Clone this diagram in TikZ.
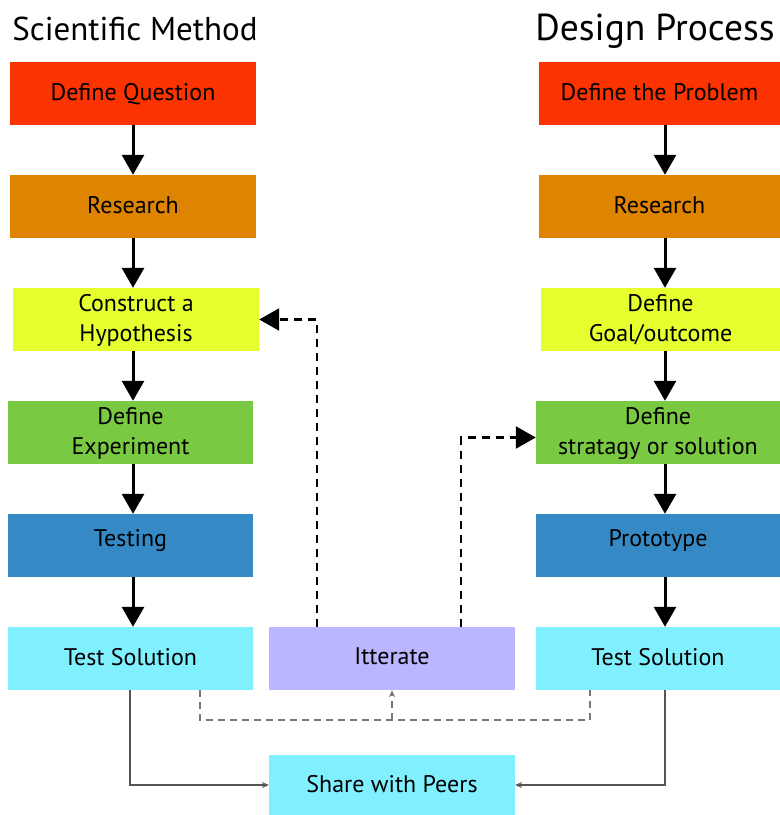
\documentclass[tikz,border=0pt]{standalone}
\usepackage{fontspec}
\setmainfont{PT Sans}
\usetikzlibrary{arrows.meta,calc}
\definecolor{cred}{HTML}{FA3300}
\definecolor{corange}{HTML}{DE8400}
\definecolor{cyellow}{HTML}{E6FF2E}
\definecolor{cgreen}{HTML}{7AC943}
\definecolor{cblue}{HTML}{358AC6}
\definecolor{ccyan}{HTML}{80F0FF}
\definecolor{clav}{HTML}{BAB7FF}
\definecolor{cdash}{HTML}{777777}
\definecolor{cline}{HTML}{555555}
\begin{document}
\begin{tikzpicture}[x=1pt,y=-1pt,
  box/.style={minimum height=63pt,inner sep=0pt,align=center,font=\fontsize{24}{30}\selectfont,text depth=4pt},
  hi/.style={text depth=16pt},
  title/.style={inner sep=0pt,anchor=base},
  flow/.style={line width=3pt,-{Triangle[length=20pt,width=22pt]}},
  iter/.style={line width=2.5pt,dash pattern=on 8pt off 6pt,-{Triangle[length=20pt,width=22pt]}},
  back/.style={cdash,line width=1.5pt,dash pattern=on 7pt off 5pt},
  share/.style={cline,line width=1.2pt,-{Stealth[length=7pt,width=6pt]}}]
\useasboundingbox (0,0) rectangle (780,815);
\node[title,font=\fontsize{33}{38}\selectfont] (t1) at (135,40) {Scientific Method};
\node[title,font=\fontsize{37.5}{42}\selectfont] (t2) at (655,40) {Design Process};
% left column
\node[box,fill=cred,minimum width=246pt] (lq) at (133,93.5) {Define Question};
\node[box,fill=corange,minimum width=246pt] (lr) at (133,206.5) {Research};
\node[box,fill=cyellow,minimum width=246pt] (lh) at (136,319.5) {Construct a\\Hypothesis};
\node[box,fill=cgreen,minimum width=245pt] (le) at (130.5,432.5) {Define\\Experiment};
\node[box,hi,fill=cblue,minimum width=245pt] (lt) at (130.5,545.5) {Testing};
\node[box,fill=ccyan,minimum width=245pt] (ls) at (130.5,658.5) {Test Solution};
% right column
\node[box,fill=cred,minimum width=241pt] (rq) at (659.5,93.5) {Define the Problem};
\node[box,fill=corange,minimum width=241pt] (rr) at (659.5,206.5) {Research};
\node[box,fill=cyellow,minimum width=239pt] (rg) at (660.5,319.5) {Define\\Goal/outcome};
\node[box,fill=cgreen,minimum width=244pt] (rs) at (658,432.5) {Define\\stratagy or solution};
\node[box,hi,fill=cblue,minimum width=244pt] (rp) at (658,545.5) {Prototype};
\node[box,fill=ccyan,minimum width=244pt] (rt) at (658,658.5) {Test Solution};
% middle
\node[box,fill=clav,minimum width=246pt] (it) at (392,658.5) {Itterate};
\node[box,fill=ccyan,minimum width=246pt,minimum height=60pt,text depth=2pt] (sh) at (392,785) {Share with Peers};
% guide coordinates
\coordinate (xl) at (133,0);
\coordinate (xr) at (665,0);
\coordinate (d1) at (317,0);
\coordinate (d2) at (461,0);
\coordinate (b1) at (200,0);
\coordinate (b2) at (590,0);
\coordinate (s1) at (130,0);
\coordinate (jl) at (200,720);
\coordinate (jr) at (590,720);
\coordinate (jm) at (392,720);
% main flows
\foreach \a/\b in {lq/lr,lr/lh,lh/le,le/lt,lt/ls}
  \draw[flow] (\a.south -| xl) -- (\b.north -| xl);
\foreach \a/\b in {rq/rr,rr/rg,rg/rs,rs/rp,rp/rt}
  \draw[flow] (\a.south -| xr) -- (\b.north -| xr);
% iterate loops
\draw[iter] (it.north -| d1) |- (lh.east);
\draw[iter] (it.north -| d2) |- ([yshift=-5pt]rs.west);
% gray dashed feedback
\draw[back] (ls.south -| b1) -- (jl) -- (jr) -- (rt.south -| b2);
\draw[back,-{Stealth[length=7pt,width=6pt]}] (jm) -- (it.south);
% share
\draw[share] (ls.south -| s1) |- (sh.west);
\draw[share] (rt.south -| xr) |- (sh.east);
\end{tikzpicture}
\end{document}
